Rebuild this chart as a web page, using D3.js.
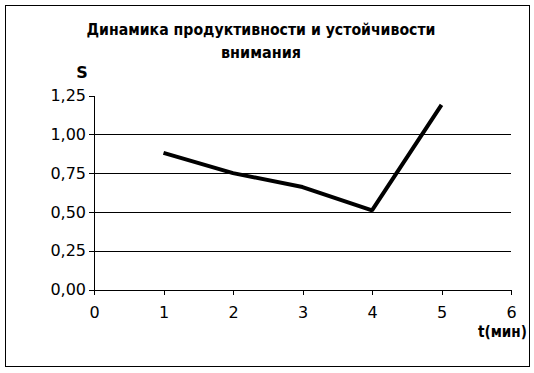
<!DOCTYPE html>
<html>
<head>
<meta charset="utf-8">
<script src="https://cdn.jsdelivr.net/npm/d3@7"></script>
<style>
  body { margin: 0; background: #fff; }
  text { font-family: "DejaVu Sans", Verdana, sans-serif; fill: #000; }
</style>
</head>
<body>
<svg id="chart"></svg>
<script>
const titleLines = ["Динамика продуктивности и устойчивости", "внимания"];
const yLabel = "S";
const xLabel = "t(мин)";

const tValues = [1, 2, 3, 4, 5];
const sValues = [0.88, 0.75, 0.66, 0.51, 1.19];

const xTicks = [0, 1, 2, 3, 4, 5, 6];
const yTicks = [0, 0.25, 0.5, 0.75, 1.0, 1.25];
const gridTicks = [0.25, 0.5, 0.75, 1.0];

const width = 534, height = 373;
const plot = { left: 94, right: 511, top: 95.5, bottom: 289.5 };

const svg = d3.select("#chart")
    .attr("width", width)
    .attr("height", height);

// outer frame
svg.append("rect")
    .attr("x", 5.5).attr("y", 5.5)
    .attr("width", 524).attr("height", 361)
    .attr("fill", "#fff")
    .attr("stroke", "#000")
    .attr("stroke-width", 1);

const x = d3.scaleLinear([0, 6], [plot.left, plot.right]);
const y = d3.scaleLinear([0, 1.25], [plot.bottom, plot.top]);

const fmt = d => d3.format(".2f")(d).replace(".", ",");

// gridlines
svg.append("g")
    .selectAll("line")
    .data(gridTicks)
    .join("line")
    .attr("x1", plot.left).attr("x2", plot.right)
    .attr("y1", d => Math.round(y(d)) + 0.5)
    .attr("y2", d => Math.round(y(d)) + 0.5)
    .attr("stroke", "#000")
    .attr("shape-rendering", "crispEdges");

// axes
const yAxis = svg.append("g")
    .attr("transform", `translate(${plot.left},0)`)
    .call(d3.axisLeft(y).tickValues(yTicks).tickFormat(fmt).tickSize(5).tickPadding(3).tickSizeOuter(0));
const xAxis = svg.append("g")
    .attr("transform", `translate(0,${plot.bottom})`)
    .call(d3.axisBottom(x).tickValues(xTicks).tickFormat(d3.format("d")).tickSize(5).tickPadding(12).tickSizeOuter(0));

[yAxis, xAxis].forEach(a => {
    a.selectAll("path, line").attr("stroke", "#000").attr("shape-rendering", "crispEdges");
    a.selectAll("text")
        .attr("fill", "#000")
        .style("font-family", "'DejaVu Sans', Verdana, sans-serif")
        .style("font-size", "16px");
});

// data line
const line = d3.line()
    .x((d, i) => x(tValues[i]))
    .y(d => y(d));
svg.append("path")
    .datum(sValues)
    .attr("fill", "none")
    .attr("stroke", "#000")
    .attr("stroke-width", 4)
    .attr("stroke-linejoin", "bevel")
    .attr("d", line);

// title
svg.append("g")
    .selectAll("text")
    .data(titleLines)
    .join("text")
    .attr("x", 261)
    .attr("y", (d, i) => 35 + i * 23)
    .attr("text-anchor", "middle")
    .style("font-size", "16px")
    .style("font-weight", "bold")
    .attr("textLength", (d, i) => i === 0 ? 349 : 80)
    .attr("lengthAdjust", "spacingAndGlyphs")
    .text(d => d);

// axis titles
svg.append("text")
    .attr("x", 82).attr("y", 78)
    .attr("text-anchor", "middle")
    .style("font-size", "16px")
    .style("font-weight", "bold")
    .text(yLabel);

svg.append("text")
    .attr("x", 527).attr("y", 337)
    .attr("text-anchor", "end")
    .style("font-size", "15px")
    .style("font-weight", "bold")
    .attr("textLength", 49)
    .attr("lengthAdjust", "spacingAndGlyphs")
    .text(xLabel);
</script>
</body>
</html>
